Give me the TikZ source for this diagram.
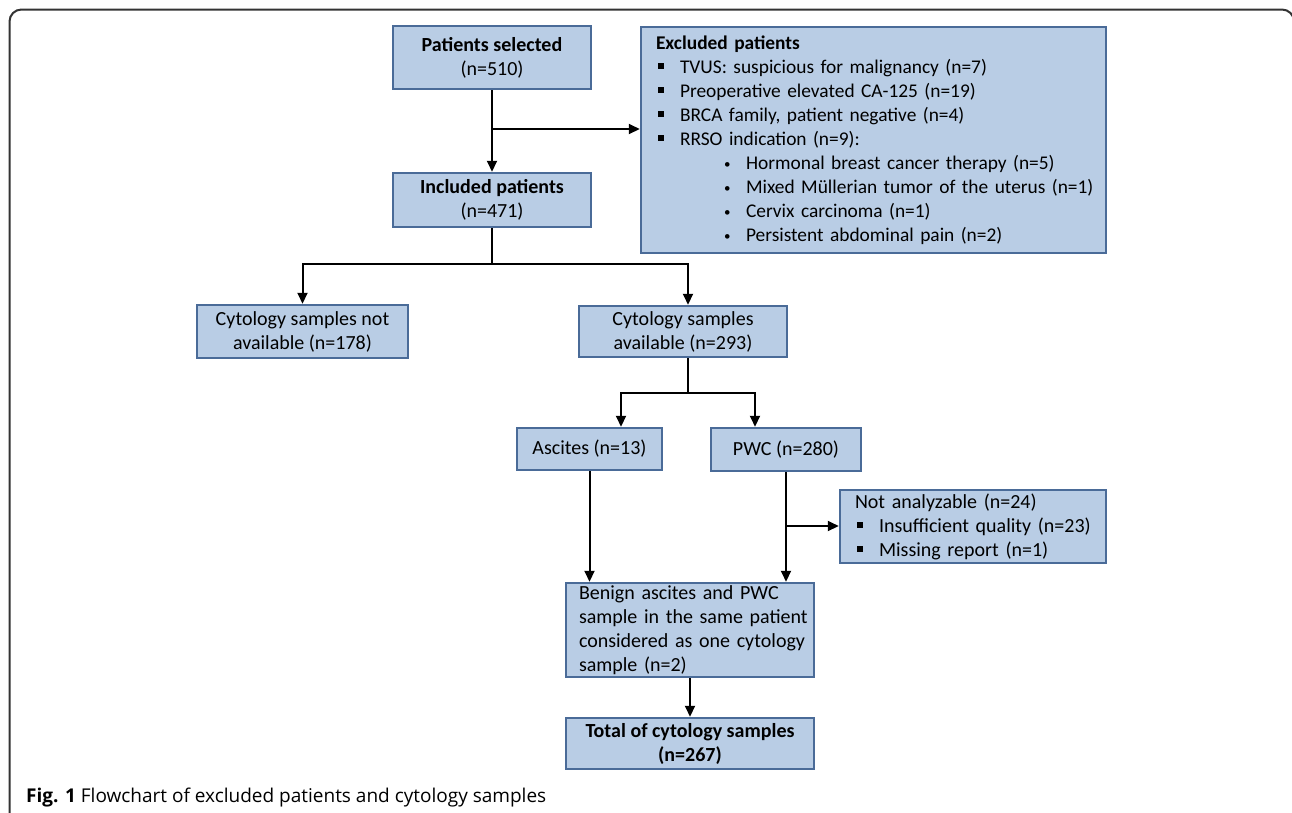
\documentclass[tikz,border=0pt]{standalone}
\usepackage{fontspec}
\setmainfont{Carlito}
\newfontfamily\capfont{Open Sans}
\usetikzlibrary{arrows.meta,calc}
\definecolor{boxfill}{HTML}{B9CDE5}
\definecolor{boxdraw}{HTML}{4A6B98}
\definecolor{framecol}{HTML}{333333}
\newcommand{\sqbul}{\makebox[24pt][l]{\hspace*{2pt}\rule[4pt]{6pt}{6pt}}}
\newcommand{\subbul}{\hspace*{68pt}\makebox[22pt][l]{\raisebox{1pt}{\fontsize{13}{13}\selectfont\textbullet}}}
\tikzset{
  box/.style={draw=boxdraw, fill=boxfill, line width=2.5pt, inner sep=0pt,
    font=\fontsize{20}{24}\selectfont, align=center},
  lbox/.style={box, align=left},
  arr/.style={line width=2pt, -{Triangle[length=11pt,width=10pt]}},
  ln/.style={line width=2pt},
}
\begin{document}
\begin{tikzpicture}[x=1pt,y=-1pt]
\useasboundingbox (0,0) rectangle (1292,812);
\begin{scope}
\clip (0,0) rectangle (1292,812);
\draw[line width=2pt, draw=framecol, rounded corners=12pt] (9.5,9.5) rectangle (1294,870);
\end{scope}

\node[box, minimum width=198pt, minimum height=63pt] (sel) at (492,57.5)
  {\textbf{Patients selected}\\(n=510)};
\node[box, minimum width=198pt, minimum height=54pt] (inc) at (492,200)
  {\textbf{Included patients}\\(n=471)};
\node[lbox, font=\fontsize{19.4}{24}\selectfont, text width=435pt, minimum width=465pt, minimum height=226pt] (excl) at (873.5,140)
  {\mbox{\textbf{Excluded patients}}\\
   \mbox{\sqbul TVUS: suspicious for malignancy (n=7)}\\
   \mbox{\sqbul Preoperative elevated CA-125 (n=19)}\\
   \mbox{\sqbul BRCA family, patient negative (n=4)}\\
   \mbox{\sqbul RRSO indication (n=9):}\\
   \mbox{\subbul Hormonal breast cancer therapy (n=5)}\\
   \mbox{\subbul Mixed Müllerian tumor of the uterus (n=1)}\\
   \mbox{\subbul Cervix carcinoma (n=1)}\\
   \mbox{\subbul Persistent abdominal pain (n=2)}};
\node[box, minimum width=211pt, minimum height=53pt] (na) at (302.5,331.5)
  {Cytology samples not\\available (n=178)};
\node[box, minimum width=208pt, minimum height=51pt] (av) at (683,331.5)
  {Cytology samples\\available (n=293)};
\node[box, minimum width=145pt, minimum height=42pt] (asc) at (589.5,449)
  {Ascites (n=13)};
\node[box, minimum width=150pt, minimum height=43pt] (pwc) at (786,449.5)
  {PWC (n=280)};
\node[lbox, text width=236pt, minimum width=266pt, minimum height=73pt] (nan) at (973,526.5)
  {\mbox{Not analyzable (n=24)}\\
   \mbox{\sqbul Insufficient quality (n=23)}\\
   \mbox{\sqbul Missing report (n=1)}};
\node[lbox, text width=222pt, minimum width=248pt, minimum height=94pt] (ben) at (690,630)
  {\mbox{Benign ascites and PWC}\\
   \mbox{sample in the same patient}\\
   \mbox{considered as one cytology}\\
   \mbox{sample (n=2)}};
\node[box, minimum width=248pt, minimum height=51pt] (tot) at (690,743.5)
  {\textbf{Total of cytology samples}\\\textbf{(n=267)}};

\coordinate (j1) at (492,129);
\coordinate (j2) at (492,264);
\coordinate (j3) at (688,393);
\coordinate (j4) at (786,526);

\draw[arr] (sel) -- (inc);
\draw[arr] (j1) -- (j1 -| excl.west);
\draw[ln] (inc.south) -- (j2);
\draw[arr] (j2) -| (na.north);
\draw[arr] (j2) -| ([xshift=5pt]av.north);
\draw[ln] ([xshift=5pt]av.south) -- (j3);
\draw[arr] (j3) -| ([xshift=31.5pt]asc.north);
\draw[arr] (j3) -| ([xshift=-31pt]pwc.north);
\draw[arr] (asc.south) -- (asc.south |- ben.north);
\draw[arr] (pwc.south) -- (pwc.south |- ben.north);
\draw[arr] (j4) -- (j4 -| nan.west);
\draw[arr] (ben) -- (tot);

\node[anchor=base west, inner sep=0pt, font=\capfont\fontsize{19}{22}\selectfont] (cap) at (26,802)
  {\textbf{Fig. 1} Flowchart of excluded patients and cytology samples};
\end{tikzpicture}
\end{document}
